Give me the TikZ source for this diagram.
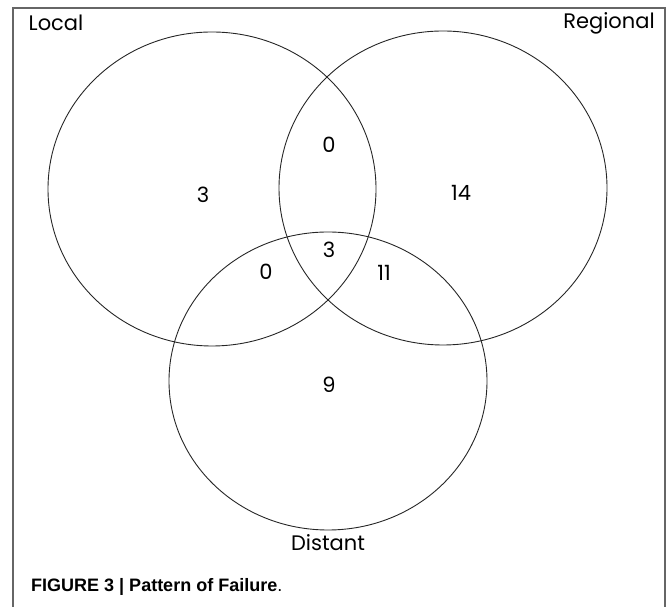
\documentclass[tikz,border=0pt]{standalone}
\usepackage{fontspec}
\usetikzlibrary{shapes.geometric}
\setmainfont{Poppins}
\newfontfamily\capfont{Liberation Sans}
\begin{document}
\begin{tikzpicture}[x=1pt,y=1pt,font=\fontsize{21}{24}\selectfont]
    \tikzstyle{set}=[draw=black!85,line width=0.9pt,ellipse,inner sep=0pt]
    \tikzstyle{num}=[inner sep=0pt,anchor=center]
    \useasboundingbox (0,0) rectangle (669,607);
    \draw[gray!80!black,line width=1.3pt] (13,-2) -- (13,599) -- (665,599) -- (665,-2);

    \node[set,minimum width=328pt,minimum height=314pt] (local) at (212,418) {};
    \node[set,minimum width=328pt,minimum height=314pt] (regional) at (443,419) {};
    \node[set,minimum width=318pt,minimum height=298pt] (distant) at (328,226) {};

    \node[num] (lbllocal) at (56,584) {Local};
    \node[num] (lblregional) at (609,584) {Regional};
    \node[num] (lbldistant) at (328,64) {Distant};

    \node[num] (lonly) at (203,412) {3};
    \node[num] (ronly) at (461,414) {14};
    \node[num] (donly) at (329,222) {9};
    \node[num] (lr) at (329,462) {0};
    \node[num] (ld) at (266,335) {0};
    \node[num] (rd) at (384,334) {11};
    \node[num] (lrd) at (329,357) {3};

    \node[anchor=base west,inner sep=0pt,font=\capfont\fontsize{18}{20}\selectfont] (caption) at (31,15) {\textbf{FIGURE 3 | Pattern of Failure}.};
\end{tikzpicture}
\end{document}
